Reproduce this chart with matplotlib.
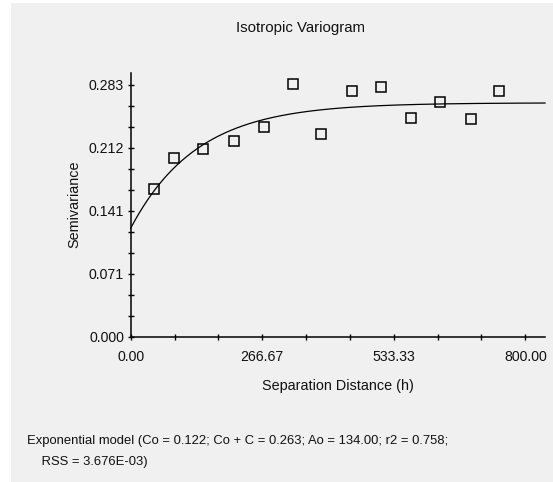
import numpy as np
import matplotlib
matplotlib.use("Agg")
import matplotlib.pyplot as plt
from matplotlib.ticker import FixedLocator, FixedFormatter
from matplotlib.patches import Rectangle

# ---- data ----
lag_distance = [47.8, 88.3, 147.0, 209.2, 269.4, 328.7, 386.0, 448.8, 508.4, 567.7, 627.8, 689.8, 746.5]
semivariance = [0.1657, 0.2006, 0.2114, 0.2204, 0.2358, 0.2838, 0.2279, 0.2763, 0.2811, 0.2459, 0.2642, 0.2444, 0.2763]

nugget = 0.122      # Co
sill = 0.263        # Co + C
range_param = 134.00  # Ao

x_tick_labels = ["0.00", "266.67", "533.33", "800.00"]
y_tick_labels = ["0.000", "0.071", "0.141", "0.212", "0.283"]
x_max_label = 800.0
y_max_label = 0.283

title = "Isotropic Variogram"
xlabel = "Separation Distance (h)"
ylabel = "Semivariance"
footer = ("Exponential model (Co = 0.122; Co + C = 0.263; Ao = 134.00; r2 = 0.758;\n"
          "    RSS = 3.676E-03)")

# ---- figure ----
W, H = 553, 482
fig = plt.figure(figsize=(W / 100, H / 100), dpi=100)
fig.patch.set_facecolor("white")
fig.patches.append(Rectangle((11 / W, 0), 1 - 11 / W, 1 - 3 / H,
                             transform=fig.transFigure, facecolor="#f0f0f0",
                             edgecolor="none", zorder=-10))

plt.rcParams["font.family"] = ["Liberation Sans", "DejaVu Sans"]
txt_color = "#111111"

ax_left = 130.7 / W
ax_bottom = (H - 336.7) / H
x_lim = 840.0
y_lim = 0.297
ax_w = (545.0 - 130.7) / W
ax_h = (251.7 * y_lim / y_max_label) / H
ax = fig.add_axes([ax_left, ax_bottom, ax_w, ax_h])
ax.set_facecolor("none")
ax.set_xlim(0, x_lim)
ax.set_ylim(0, y_lim)

for s in ["top", "right"]:
    ax.spines[s].set_visible(False)
for s in ["left", "bottom"]:
    ax.spines[s].set_color("black")
    ax.spines[s].set_linewidth(1.1)

# model curve
h = np.linspace(0, x_lim, 400)
gamma = nugget + (sill - nugget) * (1 - np.exp(-h / range_param))
ax.plot(h, gamma, color="black", lw=0.9, clip_on=False)

# points
ax.plot(lag_distance, semivariance, ls="none", marker="s", ms=7.5,
        mfc="none", mec="black", mew=1.1, clip_on=False)

# ticks
ax.xaxis.set_major_locator(FixedLocator(np.linspace(0, x_max_label, len(x_tick_labels))))
ax.xaxis.set_major_formatter(FixedFormatter(x_tick_labels))
ax.xaxis.set_minor_locator(FixedLocator(np.linspace(0, x_max_label, 3 * (len(x_tick_labels) - 1) + 1)))
ax.yaxis.set_major_locator(FixedLocator(np.linspace(0, y_max_label, len(y_tick_labels))))
ax.yaxis.set_major_formatter(FixedFormatter(y_tick_labels))
ax.yaxis.set_minor_locator(FixedLocator(np.linspace(0, y_max_label, 3 * (len(y_tick_labels) - 1) + 1)))
ax.tick_params(which="both", direction="inout", length=4.5, width=1.0, color="black",
               labelsize=10.2, labelcolor=txt_color)
ax.tick_params(axis="x", which="major", pad=7)
ax.tick_params(axis="y", which="major", pad=2.5)

ax.set_xlabel(xlabel, fontsize=10.4, color=txt_color, labelpad=11)
ax.set_ylabel(ylabel, fontsize=10.4, color=txt_color, labelpad=5)

fig.text(300 / W, 1 - 28.3 / H, title, ha="center", va="center", fontsize=10.8, color=txt_color)
fig.text(27 / W, 1 - 435 / H, footer, ha="left", va="top", fontsize=9.4,
         color=txt_color, linespacing=2.0)

fig.savefig("out.png", dpi=100, facecolor=fig.get_facecolor())
